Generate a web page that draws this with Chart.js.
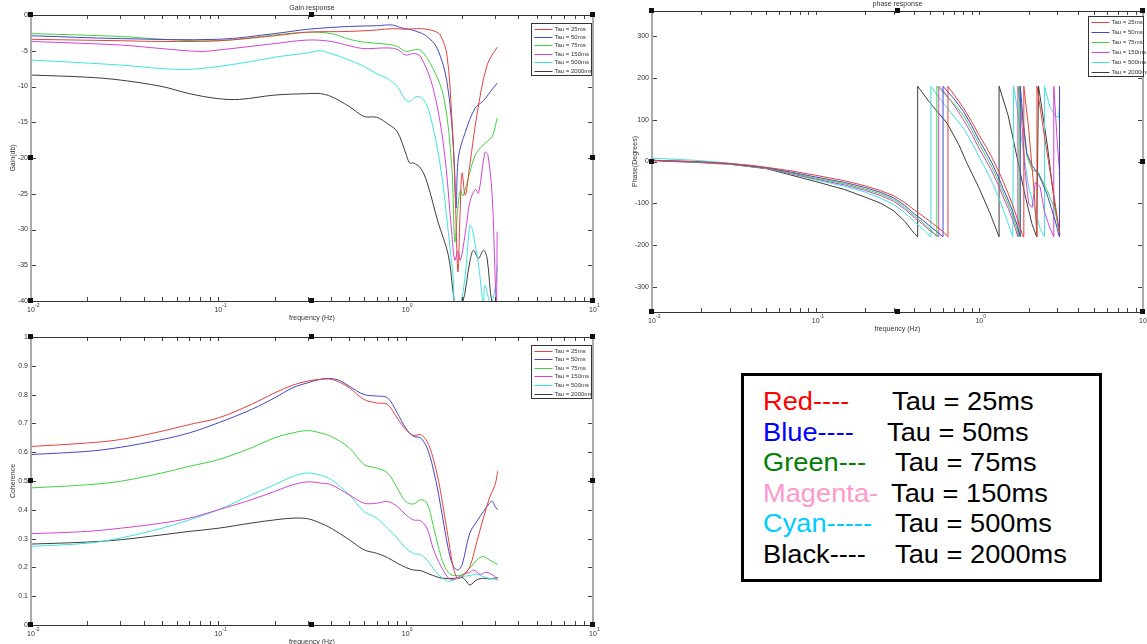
<!DOCTYPE html>
<html>
<head>
<meta charset="utf-8">
<script src="https://cdn.jsdelivr.net/npm/chart.js@4/dist/chart.umd.min.js"></script>
<style>
  body { margin: 0; background: #fff; width: 1147px; height: 644px; position: relative; overflow: hidden; }
  canvas { position: absolute; }
  #key { position: absolute; left: 741px; top: 373px; width: 355px; height: 203px; border: 3px solid #000;
         font-family: "Liberation Sans", Arial, sans-serif; font-size: 25px; color: #000; }
  #key div { position: absolute; white-space: nowrap; line-height: 30px; transform: scaleX(1.09); transform-origin: left center; }
</style>
</head>
<body>
<canvas id="gain" width="600" height="322" style="left:0;top:0"></canvas>
<canvas id="phase" width="547" height="340" style="left:600px;top:0"></canvas>
<canvas id="coh" width="600" height="322" style="left:0;top:322px"></canvas>
<div id="key"></div>
<script>
// series labels and colours (r, b, g, m, c, k)
const tauLabels = ['Tau = 25ms', 'Tau = 50ms', 'Tau = 75ms', 'Tau = 150ms', 'Tau = 500ms', 'Tau = 2000ms'];
const lineColors = ['#e5423c', '#4646c6', '#3fd43f', '#d244d2', '#3fe2e2', '#3c3c3c'];

// colour key text
const keyNames = ['Red----', 'Blue----', 'Green---', 'Magenta-', 'Cyan-----', 'Black----'];
const keyColors = ['#ff0000', '#0000ff', '#008000', '#ff99cc', '#00ccff', '#000000'];

// axis ticks
const gainTicks = [0, -5, -10, -15, -20, -25, -30, -35, -40];
const phaseTicks = [-300, -200, -100, 0, 100, 200, 300];
const cohTicks = [0, 0.1, 0.2, 0.3, 0.4, 0.5, 0.6, 0.7, 0.8, 0.9, 1];

// gain (dB) as [frequency Hz, value]
const gainRed = [[0.01,-3.4],[0.03,-3.6],[0.05,-3.7],[0.1,-3.6],[0.2,-2.9],[0.3,-2.4],[0.5,-2.3],[0.7,-2.1],[0.85,-1.9],[1.0,-2.0],[1.2,-1.9],[1.4,-2.2],[1.53,-2.8],[1.66,-5.6],[1.76,-14],[1.83,-23.4],[1.9,-35.9],[1.95,-28],[2.0,-22.1],[2.08,-25.2],[2.2,-21],[2.4,-14],[2.72,-7],[3.08,-4.5]];
const gainBlue = [[0.01,-2.9],[0.03,-3.3],[0.1,-3.4],[0.2,-2.6],[0.3,-2.0],[0.5,-1.6],[0.7,-1.5],[0.85,-1.4],[0.95,-1.8],[1.05,-2.0],[1.2,-2.5],[1.3,-3.0],[1.47,-4.6],[1.66,-9.3],[1.8,-18.6],[1.86,-27],[1.91,-20],[2.08,-16.4],[2.35,-13],[2.6,-12],[2.8,-10.9],[3.08,-9.5]];
const gainGreen = [[0.01,-2.6],[0.03,-3.0],[0.05,-3.4],[0.1,-3.6],[0.2,-2.8],[0.3,-2.4],[0.4,-2.6],[0.5,-3.4],[0.6,-3.8],[0.8,-4.1],[0.9,-4.4],[1.0,-5.1],[1.1,-4.9],[1.2,-4.9],[1.4,-7.5],[1.6,-11.6],[1.76,-21],[1.83,-31.7],[1.9,-27],[1.96,-24.5],[2.02,-25.3],[2.2,-22],[2.35,-19.6],[2.5,-18.6],[2.72,-17.7],[2.9,-17],[3.08,-14.4]];
const gainMagenta = [[0.01,-3.7],[0.03,-4.2],[0.05,-4.7],[0.08,-5.1],[0.1,-4.9],[0.2,-4.0],[0.3,-3.5],[0.4,-3.7],[0.5,-4.3],[0.6,-4.7],[0.8,-4.6],[0.9,-4.8],[1.0,-5.6],[1.1,-5.4],[1.2,-5.8],[1.4,-10.2],[1.6,-18.6],[1.76,-30.3],[1.83,-34.3],[1.9,-33],[1.96,-34.3],[2.1,-29.8],[2.2,-26.2],[2.35,-24.4],[2.45,-24.9],[2.65,-19.2],[2.75,-19.6],[2.9,-25.6],[3.0,-36.4],[3.05,-40.5],[3.08,-30.3]];
const gainCyan = [[0.01,-6.3],[0.03,-7.0],[0.05,-7.5],[0.07,-7.6],[0.1,-7.2],[0.15,-6.5],[0.2,-5.9],[0.3,-5.3],[0.35,-5.0],[0.4,-5.4],[0.5,-6.3],[0.6,-7.2],[0.7,-8.2],[0.8,-8.9],[0.9,-10],[1.0,-11.9],[1.05,-12.1],[1.15,-11.4],[1.25,-11.9],[1.35,-14],[1.53,-21],[1.69,-30.4],[1.8,-37.3],[1.83,-40.5],[1.95,-40.5],[2.08,-36.4],[2.2,-29.4],[2.27,-30],[2.45,-35],[2.6,-40.5],[2.65,-37.8],[2.85,-40.5],[3.05,-37],[3.08,-35]];
const gainBlack = [[0.01,-8.4],[0.02,-8.7],[0.03,-9.1],[0.05,-10.0],[0.07,-11.0],[0.1,-11.7],[0.13,-11.8],[0.2,-11.2],[0.3,-11.0],[0.35,-11.0],[0.4,-11.4],[0.5,-12.8],[0.6,-14.2],[0.7,-14.3],[0.8,-15.2],[0.9,-16.3],[1.0,-19.3],[1.05,-20.7],[1.1,-20.7],[1.2,-21.4],[1.3,-23.4],[1.49,-29],[1.69,-33.6],[1.8,-39.2],[1.85,-40.5],[2.0,-40.5],[2.2,-34.5],[2.3,-32.9],[2.45,-34],[2.6,-32.9],[2.72,-34],[2.9,-40.5],[3.08,-40.5]];

// phase (degrees) as [frequency Hz, value]; repeated frequencies are the ±180 wraps
const phaseRed = [[0.01,2],[0.015,1],[0.02,-1],[0.03,-5],[0.04,-9],[0.05,-14],[0.07,-22],[0.1,-33],[0.15,-46],[0.2,-58],[0.25,-70],[0.3,-82],[0.35,-98],[0.4,-116],[0.45,-130],[0.5,-143],[0.55,-156],[0.6,-168],[0.643,-180],
  [0.643,180],[0.7,160],[0.8,128],[0.9,95],[1.0,62],[1.1,35],[1.2,8],[1.3,-20],[1.4,-48],[1.5,-76],[1.6,-105],[1.7,-135],[1.8,-165],[1.85,-180],
  [1.87,180],[2.0,80],[2.15,-60],[2.25,-180],[2.25,180],[2.5,60],[2.8,-60],[3.1,-172]];
const phaseBlue = [[0.01,3],[0.02,-1],[0.03,-5],[0.05,-15],[0.07,-25],[0.1,-37],[0.15,-50],[0.2,-62],[0.25,-74],[0.3,-87],[0.35,-105],[0.4,-125],[0.45,-140],[0.5,-155],[0.55,-168],[0.6,-180],
  [0.6,180],[0.7,150],[0.8,120],[0.9,85],[1.0,50],[1.1,22],[1.2,-5],[1.3,-35],[1.4,-65],[1.5,-92],[1.6,-120],[1.7,-152],[1.78,-180],
  [1.78,180],[1.85,100],[1.95,20],[2.1,-10],[2.3,-30],[2.6,-80],[2.9,-140],[3.08,-180],[3.08,180],[3.1,150]];
const phaseGreen = [[0.01,3],[0.02,-2],[0.03,-6],[0.05,-16],[0.07,-27],[0.1,-40],[0.15,-53],[0.2,-66],[0.25,-78],[0.3,-91],[0.35,-110],[0.4,-130],[0.45,-146],[0.5,-162],[0.55,-180],
  [0.55,180],[0.6,165],[0.7,138],[0.8,110],[0.9,75],[1.0,40],[1.1,12],[1.2,-15],[1.3,-45],[1.4,-75],[1.5,-102],[1.6,-130],[1.7,-163],[1.75,-180],
  [1.75,180],[1.85,90],[1.95,15],[2.1,-20],[2.3,-27],[2.6,-70],[2.9,-115],[3.1,-175]];
const phaseMagenta = [[0.01,2],[0.02,-3],[0.03,-7],[0.05,-17],[0.07,-29],[0.1,-42],[0.15,-56],[0.2,-69],[0.25,-82],[0.3,-95],[0.35,-114],[0.4,-134],[0.45,-150],[0.5,-166],[0.565,-180],
  [0.565,180],[0.6,170],[0.7,135],[0.8,100],[0.9,65],[1.0,30],[1.1,2],[1.2,-25],[1.3,-55],[1.4,-85],[1.5,-112],[1.6,-140],[1.72,-180],
  [1.72,180],[1.8,120],[1.9,-20],[2.0,-100],[2.1,-110],[2.2,-50],[2.35,-60],[2.5,-120],[2.7,-160],[2.85,-180],[2.85,180],[3.0,40],[3.1,-30]];
const phaseCyan = [[0.01,8],[0.02,2],[0.03,-4],[0.05,-15],[0.07,-29],[0.1,-44],[0.15,-59],[0.2,-73],[0.25,-88],[0.3,-103],[0.35,-122],[0.4,-143],[0.45,-162],[0.506,-180],
  [0.506,180],[0.6,140],[0.7,108],[0.8,80],[0.9,45],[1.0,10],[1.1,-20],[1.2,-50],[1.3,-82],[1.4,-115],[1.5,-148],[1.6,-180],
  [1.62,180],[1.7,130],[1.8,60],[2.0,-60],[2.2,-120],[2.35,-160],[2.5,-180],[2.5,180],[2.7,130],[2.9,110],[3.05,105],[3.1,150]];
const phaseBlack = [[0.01,3],[0.02,-2],[0.03,-6],[0.05,-17],[0.07,-32],[0.1,-48],[0.15,-67],[0.2,-85],[0.25,-100],[0.3,-118],[0.35,-143],[0.4,-172],[0.42,-180],
  [0.42,180],[0.5,140],[0.634,92],[0.75,40],[0.84,-4],[1.0,-65],[1.16,-123],[1.32,-180],
  [1.32,180],[1.5,110],[1.7,10],[1.9,-80],[2.1,-150],[2.24,-180],[2.3,180],[2.6,40],[2.9,-110],[3.1,-175]];

// coherence as [frequency Hz, value]
const cohRed = [[0.01,0.62],[0.02,0.632],[0.03,0.644],[0.05,0.673],[0.07,0.696],[0.1,0.719],[0.15,0.766],[0.2,0.806],[0.25,0.833],[0.3,0.847],[0.35,0.853],[0.4,0.853],[0.45,0.841],[0.5,0.824],[0.6,0.783],[0.7,0.771],[0.8,0.766],[0.9,0.719],[1.0,0.679],[1.1,0.658],[1.2,0.661],[1.3,0.638],[1.4,0.58],[1.5,0.499],[1.6,0.394],[1.7,0.29],[1.8,0.197],[1.9,0.162],[2.0,0.168],[2.2,0.203],[2.4,0.29],[2.6,0.371],[2.8,0.441],[3.0,0.487],[3.1,0.534]];
const cohBlue = [[0.01,0.592],[0.02,0.603],[0.03,0.617],[0.05,0.644],[0.07,0.667],[0.1,0.702],[0.15,0.748],[0.2,0.789],[0.25,0.824],[0.3,0.841],[0.35,0.853],[0.4,0.856],[0.45,0.847],[0.5,0.829],[0.6,0.8],[0.7,0.795],[0.8,0.789],[0.9,0.737],[1.0,0.684],[1.1,0.655],[1.2,0.65],[1.3,0.615],[1.4,0.545],[1.5,0.452],[1.6,0.348],[1.7,0.255],[1.8,0.203],[1.9,0.191],[2.0,0.209],[2.2,0.319],[2.4,0.36],[2.6,0.394],[2.8,0.423],[2.9,0.43],[3.0,0.412],[3.1,0.4]];
const cohGreen = [[0.01,0.476],[0.02,0.487],[0.03,0.499],[0.05,0.528],[0.07,0.551],[0.1,0.574],[0.15,0.615],[0.2,0.65],[0.25,0.667],[0.3,0.675],[0.35,0.667],[0.4,0.655],[0.5,0.615],[0.6,0.557],[0.7,0.545],[0.8,0.528],[0.9,0.476],[1.0,0.429],[1.1,0.42],[1.2,0.435],[1.3,0.423],[1.4,0.348],[1.5,0.267],[1.6,0.209],[1.7,0.18],[1.8,0.172],[2.0,0.174],[2.2,0.197],[2.4,0.226],[2.6,0.238],[2.8,0.226],[3.0,0.215],[3.1,0.209]];
const cohMagenta = [[0.01,0.317],[0.02,0.325],[0.03,0.336],[0.05,0.354],[0.07,0.371],[0.1,0.4],[0.15,0.435],[0.2,0.464],[0.25,0.487],[0.3,0.497],[0.35,0.493],[0.4,0.487],[0.5,0.452],[0.6,0.423],[0.7,0.423],[0.8,0.429],[0.9,0.412],[1.0,0.383],[1.1,0.365],[1.2,0.362],[1.3,0.336],[1.4,0.267],[1.5,0.22],[1.6,0.186],[1.7,0.162],[1.8,0.157],[2.0,0.174],[2.2,0.183],[2.3,0.191],[2.5,0.176],[2.7,0.183],[3.0,0.168],[3.1,0.157]];
const cohCyan = [[0.01,0.273],[0.02,0.284],[0.03,0.302],[0.05,0.336],[0.07,0.365],[0.1,0.4],[0.15,0.452],[0.2,0.487],[0.25,0.516],[0.3,0.528],[0.35,0.52],[0.4,0.505],[0.5,0.452],[0.6,0.394],[0.7,0.371],[0.8,0.336],[0.9,0.302],[1.0,0.267],[1.1,0.249],[1.2,0.244],[1.3,0.226],[1.4,0.197],[1.5,0.174],[1.6,0.16],[1.7,0.151],[1.8,0.157],[2.0,0.168],[2.2,0.172],[2.4,0.176],[2.6,0.168],[2.8,0.162],[3.1,0.157]];
const cohBlack = [[0.01,0.281],[0.02,0.288],[0.03,0.296],[0.05,0.313],[0.07,0.325],[0.1,0.336],[0.15,0.354],[0.2,0.365],[0.25,0.371],[0.3,0.369],[0.35,0.354],[0.4,0.336],[0.5,0.296],[0.6,0.261],[0.7,0.249],[0.8,0.234],[0.9,0.215],[1.0,0.2],[1.1,0.191],[1.2,0.189],[1.3,0.18],[1.5,0.165],[1.6,0.162],[1.8,0.162],[2.0,0.165],[2.1,0.153],[2.2,0.139],[2.4,0.157],[2.6,0.162],[2.8,0.16],[3.1,0.165]];

const FONT = '"Liberation Sans", Arial, sans-serif';

// MATLAB-style box: inward ticks, log decade labels, titles, handles and inset legend
const matlabAxes = {
  id: 'matlabAxes',
  afterDatasetsDraw(chart, args, o) {
    const { ctx, chartArea: a } = chart;
    const xs = chart.scales.x, ys = chart.scales.y;
    ctx.save();

    ctx.strokeStyle = '#444';
    ctx.lineWidth = 1;
    ctx.beginPath();
    for (let d = -2; d < 1; d++) {
      for (let k = 1; k < 10; k++) {
        const px = Math.round(xs.getPixelForValue(k * Math.pow(10, d))) + 0.5;
        ctx.moveTo(px, a.top); ctx.lineTo(px, a.top + 4);
        ctx.moveTo(px, a.bottom); ctx.lineTo(px, a.bottom - 4);
      }
    }
    o.yTicks.forEach(v => {
      const py = Math.round(ys.getPixelForValue(v)) + 0.5;
      ctx.moveTo(a.left, py); ctx.lineTo(a.left + 5, py);
      ctx.moveTo(a.right, py); ctx.lineTo(a.right - 5, py);
    });
    ctx.stroke();

    // frame
    ctx.strokeStyle = '#333';
    ctx.beginPath();
    ctx.moveTo(a.left, a.top + 0.5); ctx.lineTo(a.right, a.top + 0.5);
    ctx.moveTo(a.left, a.bottom + 0.5); ctx.lineTo(a.right, a.bottom + 0.5);
    ctx.stroke();
    ctx.strokeStyle = '#aaa';
    ctx.lineWidth = 2;
    ctx.beginPath();
    ctx.moveTo(a.left, a.top); ctx.lineTo(a.left, a.bottom);
    ctx.moveTo(a.right, a.top); ctx.lineTo(a.right, a.bottom);
    ctx.stroke();

    // tick labels
    ctx.fillStyle = '#333';
    ctx.font = '7px ' + FONT;
    ctx.textAlign = 'right';
    ctx.textBaseline = 'middle';
    o.yTicks.forEach(v => {
      ctx.fillText(String(+v.toFixed(1)), a.left - 3, ys.getPixelForValue(v));
    });
    [-2, -1, 0, 1].forEach(d => {
      const px = xs.getPixelForValue(Math.pow(10, d));
      ctx.font = '7px ' + FONT;
      ctx.textAlign = 'center';
      ctx.fillText('10', px, a.bottom + 9);
      ctx.font = '5px ' + FONT;
      ctx.textAlign = 'left';
      ctx.fillText(String(d), px + 4, a.bottom + 5);
    });

    // titles
    const cx = (a.left + a.right) / 2, cy = (a.top + a.bottom) / 2;
    ctx.font = '7px ' + FONT;
    ctx.textAlign = 'center';
    if (o.title) ctx.fillText(o.title, cx, a.top - 7);
    ctx.fillText('frequency (Hz)', cx, a.bottom + 17);
    ctx.save();
    ctx.translate(a.left - o.yTitleGap, cy);
    ctx.rotate(-Math.PI / 2);
    ctx.fillText(o.yTitle, 0, 0);
    ctx.restore();

    // selection handles
    ctx.fillStyle = '#111';
    [[a.left, a.top], [cx, a.top], [a.right, a.top], [a.left, cy], [a.right, cy],
     [a.left, a.bottom], [cx, a.bottom], [a.right, a.bottom]].forEach(([hx, hy]) => {
      ctx.fillRect(Math.round(hx) - 3, Math.round(hy) - 3, 5, 5);
    });

    // inset legend
    const L = o.legend;
    const bx = a.right - L.dx - L.w + 0.5, by = a.top + L.dy + 0.5;
    ctx.fillStyle = '#fff';
    ctx.fillRect(bx, by, L.w, L.h);
    ctx.strokeStyle = '#333';
    ctx.lineWidth = 1;
    ctx.strokeRect(bx, by, L.w, L.h);
    const step = (L.h - 10) / 5;
    ctx.font = '6px ' + FONT;
    ctx.textAlign = 'left';
    ctx.textBaseline = 'middle';
    chart.data.datasets.forEach((ds, i) => {
      const ry = Math.round(by + 5 + i * step) + 0.5;
      ctx.strokeStyle = ds.borderColor;
      ctx.beginPath();
      ctx.moveTo(bx + 3, ry); ctx.lineTo(bx + 21, ry);
      ctx.stroke();
      ctx.fillStyle = '#333';
      ctx.fillText(ds.label, bx + 23, ry);
    });
    ctx.restore();
  }
};

function toPoints(pairs) {
  return pairs.map(([x, y]) => ({ x, y }));
}

function makeChart(id, seriesList, cfg) {
  new Chart(document.getElementById(id), {
    type: 'line',
    data: {
      datasets: seriesList.map((s, i) => ({
        label: tauLabels[i],
        data: toPoints(s),
        borderColor: lineColors[i],
        borderWidth: 1,
        pointRadius: 0,
        tension: cfg.tension,
        fill: false
      }))
    },
    options: {
      responsive: false,
      animation: false,
      events: [],
      layout: { padding: cfg.padding },
      scales: {
        x: { type: 'logarithmic', min: 0.01, max: 10, display: false },
        y: { type: 'linear', min: cfg.yMin, max: cfg.yMax, display: false }
      },
      plugins: {
        legend: { display: false },
        tooltip: { enabled: false },
        matlabAxes: {
          yTicks: cfg.yTicks,
          title: cfg.title,
          yTitle: cfg.yTitle,
          yTitleGap: cfg.yTitleGap,
          legend: cfg.legend
        }
      }
    },
    plugins: [matlabAxes]
  });
}

makeChart('gain', [gainRed, gainBlue, gainGreen, gainMagenta, gainCyan, gainBlack], {
  yMin: -40, yMax: 0, yTicks: gainTicks, tension: 0.35,
  title: 'Gain response', yTitle: 'Gain(db)', yTitleGap: 18,
  padding: { left: 31, top: 15, right: 7, bottom: 21 },
  legend: { dx: 2, dy: 8, w: 60, h: 52 }
});

makeChart('phase', [phaseRed, phaseBlue, phaseGreen, phaseMagenta, phaseCyan, phaseBlack], {
  yMin: -360, yMax: 360, yTicks: phaseTicks, tension: 0,
  title: 'phase response', yTitle: 'Phase(Degrees)', yTitleGap: 17,
  padding: { left: 52, top: 11, right: 4, bottom: 28 },
  legend: { dx: 0, dy: 5, w: 55, h: 60 }
});

makeChart('coh', [cohRed, cohBlue, cohGreen, cohMagenta, cohCyan, cohBlack], {
  yMin: 0, yMax: 1, yTicks: cohTicks, tension: 0.35,
  title: '', yTitle: 'Coherence', yTitleGap: 18,
  padding: { left: 31, top: 15, right: 7, bottom: 19 },
  legend: { dx: 2, dy: 8, w: 60, h: 53 }
});

// colour key box
const key = document.getElementById('key');
const tauX = [148, 143, 151, 147, 151, 151];
keyNames.forEach((name, i) => {
  const top = 10 + i * 30.6;
  const n = document.createElement('div');
  n.textContent = name;
  n.style.cssText = `left:19px;top:${top}px;color:${keyColors[i]}`;
  key.appendChild(n);
  const t = document.createElement('div');
  t.textContent = tauLabels[i];
  t.style.cssText = `left:${tauX[i]}px;top:${top}px`;
  key.appendChild(t);
});
</script>
</body>
</html>
